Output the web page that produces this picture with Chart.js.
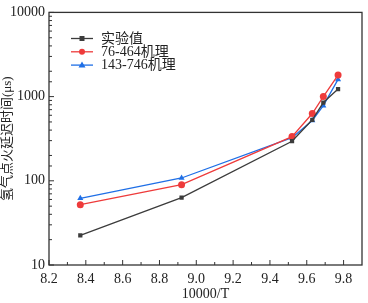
<!DOCTYPE html>
<html>
<head>
<meta charset="utf-8">
<script src="https://cdn.jsdelivr.net/npm/chart.js@4"></script>
<style>
  html, body { margin: 0; padding: 0; background: #fff; }
  #wrap { width: 368px; height: 303px; }
</style>
</head>
<body>
<div id="wrap"><canvas id="c" width="368" height="303"></canvas></div>
<script>
// data
const xVals = [8.37, 8.92, 9.52, 9.63, 9.69, 9.77];
const expData = [22.5, 63, 295, 530, 850, 1230];
const mech76Data = [52, 90, 335, 630, 1000, 1800];
const mech143Data = [62, 108, 325, 520, 780, 1600];
const seriesNames = ['实验值', '76-464机理', '143-746机理'];
const yMajorTicks = [10, 100, 1000, 10000];

const FONT = '"Liberation Serif", "Noto Sans CJK SC", serif';
const colors = ['#3c3c3c', '#ee3b3b', '#1f6fe6'];
const markers = ['rect', 'circle', 'triangle'];

const toPts = arr => arr.map((v, i) => ({ x: xVals[i], y: v }));

// inward tick marks + frame
const frameTicks = {
    id: 'frameTicks',
    afterDraw(chart) {
        const ctx = chart.ctx, a = chart.chartArea;
        const xs = chart.scales.x, ys = chart.scales.y;
        ctx.save();
        ctx.strokeStyle = '#333';
        ctx.lineWidth = 1.3;
        ctx.strokeRect(a.left, a.top, a.right - a.left, a.bottom - a.top);
        ctx.lineWidth = 1;
        xs.ticks.forEach(t => {
            const p = xs.getPixelForValue(t.value);
            if (p > a.right - 1) return;
            const major = Math.abs(t.value * 5 - Math.round(t.value * 5)) < 1e-6;
            ctx.beginPath();
            ctx.moveTo(p, a.bottom);
            ctx.lineTo(p, a.bottom - (major ? 5 : 3));
            ctx.stroke();
        });
        ys.ticks.forEach(t => {
            const p = ys.getPixelForValue(t.value);
            const major = yMajorTicks.includes(t.value);
            ctx.beginPath();
            ctx.moveTo(a.left, p);
            ctx.lineTo(a.left + (major ? 5 : 3), p);
            ctx.stroke();
        });
        ctx.restore();
    }
};

// legend drawn as line + marker + text
const legendBox = {
    id: 'legendBox',
    afterDraw(chart) {
        const ctx = chart.ctx;
        ctx.save();
        ctx.font = '14px ' + FONT;
        ctx.textBaseline = 'middle';
        seriesNames.forEach((n, i) => {
            const y = 38.5 + i * 13.3;
            ctx.strokeStyle = colors[i];
            ctx.fillStyle = colors[i];
            ctx.lineWidth = 1.3;
            ctx.beginPath();
            ctx.moveTo(71, y);
            ctx.lineTo(93, y);
            ctx.stroke();
            const mx = 82;
            ctx.beginPath();
            if (i === 0) ctx.rect(mx - 2.5, y - 2.5, 5, 5);
            else if (i === 1) ctx.arc(mx, y, 3, 0, Math.PI * 2);
            else { ctx.moveTo(mx, y - 3.5); ctx.lineTo(mx + 3.5, y + 2.5); ctx.lineTo(mx - 3.5, y + 2.5); ctx.closePath(); }
            ctx.fill();
            ctx.fillStyle = '#222';
            ctx.fillText(n, 101, y + 0.5);
        });
        ctx.restore();
    }
};

new Chart(document.getElementById('c'), {
    type: 'line',
    data: {
        datasets: [expData, mech76Data, mech143Data].map((d, i) => ({
            label: seriesNames[i],
            data: toPts(d),
            borderColor: colors[i],
            backgroundColor: colors[i],
            borderWidth: 1.3,
            pointStyle: markers[i],
            pointRadius: i === 0 ? 3 : 3.5,
            pointBorderWidth: 0,
            tension: 0
        }))
    },
    options: {
        responsive: false,
        animation: false,
        layout: { padding: { left: 0, right: 5, top: 10, bottom: 0 } },
        plugins: { legend: { display: false }, tooltip: { enabled: false } },
        scales: {
            x: {
                type: 'linear', min: 8.2, max: 9.9,
                grid: { display: false, drawTicks: false }, border: { display: false },
                afterFit: s => { s.height = 38; },
                ticks: {
                    stepSize: 0.1, autoSkip: false, maxRotation: 0, padding: 6,
                    color: '#222', font: { family: FONT, size: 14 },
                    callback: v => {
                        const k = Math.round(v * 10);
                        return (k % 2 === 0 && k < 99) ? (k / 10).toFixed(1) : '';
                    }
                },
                title: { display: true, text: '10000/T', color: '#222', font: { family: FONT, size: 14 }, padding: { top: 0, bottom: 0 } }
            },
            y: {
                type: 'logarithmic', min: 10, max: 10000,
                grid: { display: false, drawTicks: false }, border: { display: false },
                afterFit: s => { s.width = 49; },
                ticks: {
                    autoSkip: false, padding: 4,
                    color: '#222', font: { family: FONT, size: 14 },
                    callback: v => yMajorTicks.includes(v) ? String(v) : ''
                },
                title: { display: true, text: '氢气点火延迟时间(μs)', color: '#222', font: { family: FONT, size: 13 }, padding: { top: 0, bottom: 0 } }
            }
        }
    },
    plugins: [frameTicks, legendBox]
});
</script>
</body>
</html>
